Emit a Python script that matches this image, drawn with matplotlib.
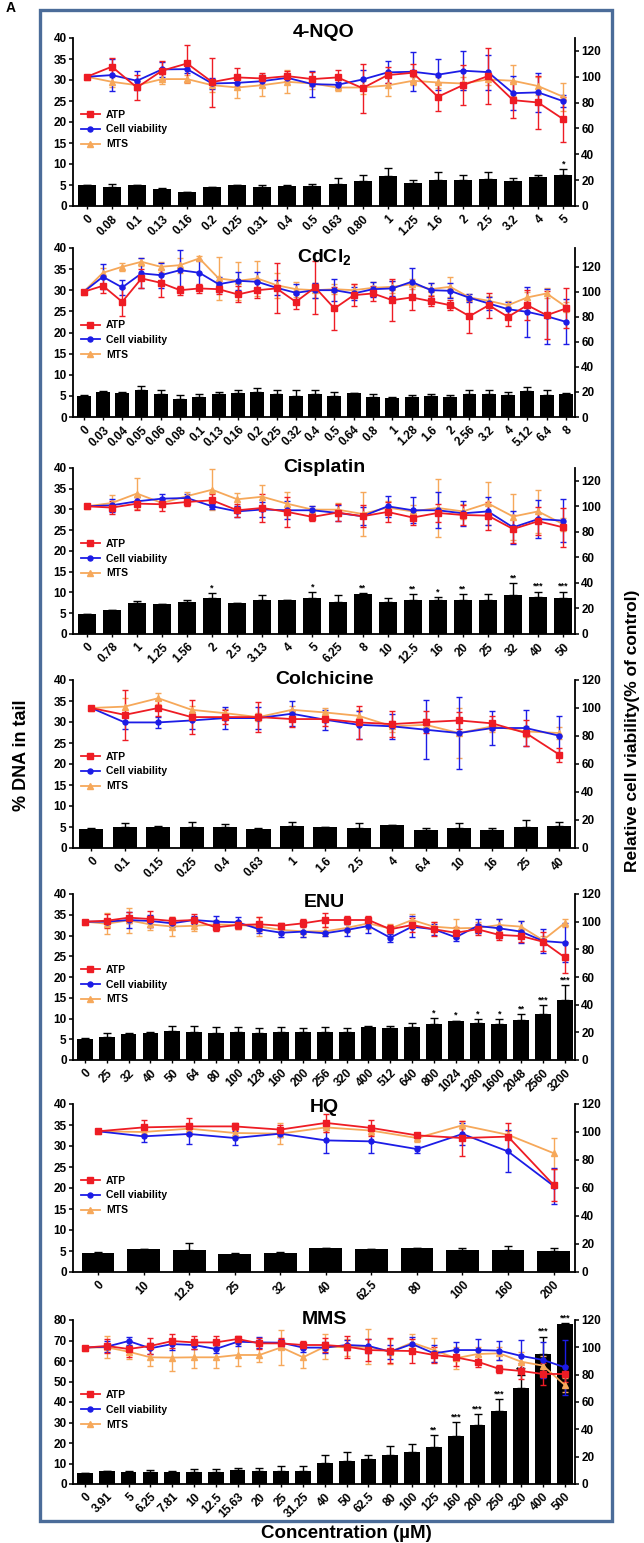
import numpy as np
import matplotlib
matplotlib.use("Agg")
import matplotlib.pyplot as plt
from matplotlib.lines import Line2D
from matplotlib.patches import Rectangle

plt.rcParams["font.family"] = ["Liberation Sans", "DejaVu Sans"]
plt.rcParams["font.weight"] = "bold"
plt.rcParams["axes.labelweight"] = "bold"
plt.rcParams["mathtext.fontset"] = "custom"
plt.rcParams["mathtext.rm"] = "Liberation Sans:bold"
plt.rcParams["mathtext.bf"] = "Liberation Sans:bold"
plt.rcParams["mathtext.default"] = "bf"

RED = "#ee1c24"
BLUE = "#1c1ce6"
ORANGE = "#f6a85a"

##### 4-NQO #####
nqo_conc = ["0", "0.08", "0.1", "0.13", "0.16", "0.2", "0.25", "0.31", "0.4", "0.5",
            "0.63", "0.80", "1", "1.25", "1.6", "2", "2.5", "3.2", "4", "5"]
nqo_dna = [4.9, 4.5, 4.9, 4.0, 3.3, 4.5, 4.9, 4.5, 4.8, 4.8, 5.3, 6.0, 7.1, 5.5, 6.3, 6.3, 6.4, 6.0, 6.9, 7.5]
nqo_dna_err = [0.1, 0.8, 0.2, 0.2, 0.1, 0.1, 0.1, 0.4, 0.2, 0.5, 1.4, 1.5, 2.0, 0.8, 1.7, 1.0, 1.6, 0.7, 0.4, 1.2]
nqo_stars = {19: "*"}
nqo_atp = [100, 107.8, 91.7, 104.7, 110.3, 95.9, 99.5, 98.7, 100.5, 98.2, 99.5, 91.2, 101.3, 103.1, 84.5, 93.5, 100.5, 81.9, 80.1, 67.2]
nqo_atp_err = [0, 6.5, 10, 7.5, 14, 19, 7, 4, 4, 5.5, 6, 19, 6.5, 7, 11, 15.5, 21.5, 14, 20.5, 17.5]
nqo_cell = [100, 101.3, 96.9, 105.7, 105.9, 94.8, 95.3, 96.6, 99.2, 94.3, 93.8, 97.9, 103.4, 103.9, 101.6, 104.7, 103.6, 87.3, 87.9, 81.1]
nqo_cell_err = [0, 12.5, 7.5, 6, 3, 4.6, 3.5, 4.5, 3, 10, 2.5, 7, 8.5, 15, 12, 15, 13.5, 13, 15, 4.8]
nqo_mts = [100, 96.1, 93.5, 98.2, 98.2, 93.5, 91.7, 93.5, 96.1, 94.8, 91.7, 91.7, 93.3, 96.9, 95.6, 94.8, 97.9, 96.9, 92.8, 84.5]
nqo_mts_err = [0, 4, 3, 4, 3, 5, 8, 8, 9, 4, 3, 5, 8, 3, 4, 5, 4, 12, 7, 11]

##### CdCl2 #####
cd_conc = ["0", "0.03", "0.04", "0.05", "0.06", "0.08", "0.1", "0.13", "0.16", "0.2", "0.25", "0.32", "0.4",
           "0.5", "0.64", "0.8", "1", "1.28", "1.6", "2", "2.56", "3.2", "4", "5.12", "6.4", "8"]
cd_dna = [5.0, 5.8, 5.7, 6.3, 5.5, 4.3, 4.7, 5.5, 5.7, 5.9, 5.4, 5.0, 5.5, 5.0, 5.6, 4.7, 4.6, 4.7, 4.9, 4.7,
          5.5, 5.5, 5.1, 6.1, 5.1, 5.4]
cd_dna_err = [0.1, 0.3, 0.2, 1.0, 1.0, 0.8, 0.8, 0.3, 0.6, 1.0, 1.1, 1.3, 1.0, 0.9, 0.1, 0.8, 0.2, 0.4, 0.6, 0.4,
              0.8, 1.0, 0.8, 1.0, 1.2, 0.2]
cd_stars = {}
cd_atp = [100, 104.8, 92.0, 110.7, 107.2, 101.3, 102.7, 102.1, 97.9, 101.3, 102.7, 92.0, 103.5, 86.7, 97.3, 98.7,
          93.3, 95.5, 92.5, 89.3, 80.5, 89.3, 80.0, 89.3, 81.3, 86.7]
cd_atp_err = [0, 6, 11, 7.5, 11, 3.6, 3.7, 3.5, 6.4, 6.3, 20, 6, 21, 17, 9, 6, 17, 10, 4, 4, 13, 10, 7, 12, 19, 16]
cd_cell = [100, 112, 103.5, 114.7, 113.3, 117.3, 115.2, 106.1, 108.8, 108, 103.2, 99.2, 101.3, 101.3, 98.7, 102.1,
           102.7, 108, 101.3, 100.8, 95.2, 90.7, 86.1, 84, 80.5, 76]
cd_cell_err = [0, 10, 6, 12, 10, 16, 10, 6, 7, 8, 6, 7, 6, 9, 5, 6, 6, 11, 6, 6, 3, 5, 6, 20, 22, 18]
cd_mts = [100, 115.2, 120, 124, 120, 121.3, 126.7, 110.7, 108.8, 110.7, 105.3, 102.1, 101.3, 102.1, 101.3, 103.2,
          104, 106.1, 102.1, 104, 95.5, 92.8, 89.3, 95.5, 98.7, 88]
cd_mts_err = [0, 4, 3, 3, 4, 6, 2, 17, 15, 14, 10, 6, 6, 4, 5, 5, 5, 4, 5, 8, 3, 4, 3, 4, 4, 4]

##### Cisplatin #####
cis_conc = ["0", "0.78", "1", "1.25", "1.56", "2", "2.5", "3.13", "4", "5", "6.25", "8", "10", "12.5", "16",
            "20", "25", "32", "40", "50"]
cis_dna = [4.8, 5.7, 7.4, 7.2, 7.8, 8.6, 7.4, 8.2, 8.1, 8.6, 7.6, 9.6, 7.7, 8.3, 8.2, 8.2, 8.1, 9.4, 8.9, 8.6]
cis_dna_err = [0.1, 0.1, 0.6, 0.1, 0.5, 1.2, 0.1, 1.3, 0.2, 1.5, 1.8, 0.2, 0.9, 1.4, 0.7, 1.4, 1.5, 2.8, 1.3, 1.6]
cis_stars = {5: "*", 9: "*", 11: "**", 13: "**", 14: "*", 15: "**", 17: "**", 18: "***", 19: "***"}
cis_atp = [100, 99, 102.1, 101.6, 103.4, 104.7, 96.9, 98.7, 95.6, 91.7, 95.1, 92.2, 95.6, 91.2, 94.8,
           93.2, 92.7, 82.2, 88.3, 83.5]
cis_atp_err = [0, 5, 5, 5, 3, 5, 5, 11, 12, 3, 6.5, 8.5, 8, 6, 7, 7.5, 11, 11, 11, 15]
cis_cell = [100, 100.8, 103.9, 106, 106.5, 100, 96, 97.5, 96.9, 96.9, 94.8, 92.2, 100, 96.9, 96.9,
            94.5, 96, 83.5, 90, 88.8]
cis_cell_err = [0, 5, 3, 4, 3, 2, 4, 6, 7, 3, 6, 7, 8, 10, 14, 10, 11, 13, 15, 17]
cis_mts = [100, 102.6, 110, 102.6, 108, 113, 105.5, 107.5, 102, 97.4, 97.4, 94, 99, 96, 98.7,
           96, 102.3, 92, 96, 86]
cis_mts_err = [0, 6, 12, 3, 3, 16, 5, 9, 9, 3, 5, 17, 5, 5, 23, 6, 17, 18, 17, 5]

##### Colchicine #####
col_conc = ["0", "0.1", "0.15", "0.25", "0.4", "0.63", "1", "1.6", "2.5", "4", "6.4", "10", "16", "25", "40"]
col_dna = [4.6, 5.1, 5.0, 5.0, 5.0, 4.5, 5.3, 4.9, 4.7, 5.4, 4.3, 4.7, 4.3, 5.1, 5.3]
col_dna_err = [0.1, 0.9, 0.3, 1.2, 0.6, 0.3, 0.9, 0.1, 1.3, 0.1, 0.5, 1.3, 0.4, 1.5, 0.8]
col_stars = {}
col_atp = [100, 95.1, 100, 93.5, 93.5, 93.5, 92.1, 92.1, 89.7, 88.5, 89.9, 91.1, 89, 82.1, 66.7]
col_atp_err = [0, 18, 5.5, 12, 5, 10.5, 6, 5, 12, 9.5, 8, 6, 5, 9.5, 5]
col_cell = [100, 89.7, 89.7, 91.1, 92.8, 92.8, 95.9, 91.6, 88, 86.9, 84.5, 82.1, 85.7, 85.7, 80.2]
col_cell_err = [0, 5, 4, 6, 8, 8, 9, 7, 10, 9, 21, 26, 12, 13, 14]
col_mts = [100, 101, 107, 98.7, 96.3, 93.5, 98.7, 96.8, 94.4, 86.9, 88, 82.1, 86.9, 83.3, 82.1]
col_mts_err = [0, 6, 4, 3, 3, 3, 3, 3, 4, 4, 4, 18, 4, 4, 4]

##### ENU #####
enu_conc = ["0", "25", "32", "40", "50", "64", "80", "100", "128", "160", "200", "256", "320", "400", "512",
            "640", "800", "1024", "1280", "1600", "2048", "2560", "3200"]
enu_dna = [5.1, 5.5, 6.3, 6.4, 7.1, 6.7, 6.5, 6.8, 6.4, 6.8, 6.8, 6.8, 6.8, 8.0, 7.8, 7.9, 8.7, 9.3, 9.0, 8.6,
           9.7, 11.0, 14.5]
enu_dna_err = [0.1, 0.9, 0.2, 0.4, 1.2, 1.5, 1.5, 1.2, 1.4, 1.1, 1.0, 1.2, 1.0, 0.2, 0.5, 1.1, 1.4, 0.2, 0.8,
               1.3, 1.4, 2.3, 3.5]
enu_stars = {16: "*", 17: "*", 18: "*", 19: "*", 20: "**", 21: "***", 22: "***"}
enu_atp = [100, 100.7, 102.9, 101.9, 100.5, 101.2, 95.9, 97.6, 98.1, 97.1, 98.8, 101.2, 101.2, 101.2, 94.5,
           97.6, 94.5, 92, 94.5, 90.4, 89.6, 85.5, 74.2]
enu_atp_err = [0, 5, 4, 6, 3, 4, 3, 3, 5, 2, 3, 5, 3, 3, 3, 5, 5, 4, 4, 4, 4, 7, 11]
enu_cell = [100, 100, 101.2, 100.5, 98.8, 101.2, 100, 99.5, 94.5, 92, 92.8, 91.6, 94, 96.9, 88.4, 96.4, 94.5,
            88.7, 96.9, 95.2, 92.8, 86, 84.8]
enu_cell_err = [0, 2, 5.5, 4, 3, 3, 4, 4, 3, 3, 4, 2, 4, 5, 3, 7.5, 4, 3, 5, 7, 8, 9, 14]
enu_mts = [100, 98.5, 101, 98, 96.5, 97, 98, 97.6, 96.5, 94, 93, 93, 95.5, 98.8, 95, 101.2, 96.4, 95.2, 95.5,
           97.6, 96.4, 86.6, 99]
enu_mts_err = [0, 7.5, 9, 4, 7, 4, 3, 3, 7, 3, 4, 3, 3, 4, 3, 4, 3, 7, 4, 4, 4, 3, 3]

##### HQ #####
hq_conc = ["0", "10", "12.8", "25", "32", "40", "62.5", "80", "100", "160", "200"]
hq_dna = [4.6, 5.4, 5.2, 4.4, 4.6, 5.7, 5.4, 5.7, 5.2, 5.3, 5.1]
hq_dna_err = [0.05, 0.1, 1.6, 0.1, 0.1, 0.1, 0.1, 0.1, 0.5, 0.8, 0.6]
hq_stars = {}
hq_atp = [100.5, 103.3, 104, 104, 101.7, 106.5, 102.9, 97.6, 95.7, 96.7, 62.2]
hq_atp_err = [0, 5.5, 6, 2.5, 3, 6.5, 6, 2, 12.5, 10, 11.5]
hq_cell = [100.5, 96.9, 98.6, 95.7, 98.8, 94, 93.3, 87.8, 98.6, 86.1, 61.5]
hq_cell_err = [0, 4, 7, 5, 2.5, 9, 8, 2.5, 8, 15, 13]
hq_mts = [100.5, 100, 102.4, 99.3, 98.8, 103.3, 101, 95.7, 104.8, 98, 84.9]
hq_mts_err = [0, 3, 3, 3, 7.5, 3, 3, 3, 3, 3, 11]

##### MMS #####
mms_conc = ["0", "3.91", "5", "6.25", "7.81", "10", "12.5", "15.63", "20", "25", "31.25", "40", "50", "62.5",
            "80", "100", "125", "160", "200", "250", "320", "400", "500"]
mms_dna = [5.4, 6.2, 5.7, 5.7, 5.7, 5.8, 5.7, 6.7, 6.2, 6.2, 6.5, 10.2, 11.4, 12.2, 14.1, 15.7, 18.0, 23.2,
           28.9, 35.4, 46.8, 63.3, 77.9]
mms_dna_err = [0.2, 0.3, 0.8, 1.0, 0.8, 1.7, 1.8, 1.1, 1.6, 2.4, 2.4, 4.1, 4.0, 2.1, 4.2, 3.8, 5.7, 7.0, 5.2,
               6.0, 6.4, 8.6, 0.5]
mms_stars = {16: "**", 17: "***", 18: "***", 19: "***", 20: "***", 21: "***", 22: "***"}
mms_atp = [99.8, 101, 98.8, 101, 104.6, 103.6, 103.6, 106.1, 102.9, 102.9, 101.7, 101.7, 100.5, 98, 97.6,
           97.3, 94.4, 92.7, 89.5, 84.2, 82.7, 80.5, 80.5]
mms_atp_err = [0, 5, 6, 6, 5, 5, 5, 2, 4, 4, 3, 5, 8, 8, 9, 9, 6, 6, 4, 3, 6, 8, 6]
mms_cell = [99.8, 100.5, 104.6, 99.3, 102.4, 101.7, 98.8, 104.1, 103.6, 103.4, 99.8, 99.8, 101.7, 101, 96.8,
            102.4, 95.6, 98, 98, 97.6, 93.7, 90.8, 85.4]
mms_cell_err = [0, 4, 3, 4, 4, 3, 3, 3, 4, 3, 3, 4, 4, 5, 5, 5, 6, 6, 8, 7, 12, 13, 20]
mms_mts = [99.8, 100, 96.8, 92.7, 92.5, 92.7, 92.7, 94.4, 94.4, 100, 92.7, 100.5, 100, 100.5, 96.8, 103.4,
           98, 92, 95.1, 95.6, 89.5, 86.6, 72.5]
mms_mts_err = [0, 8, 5, 6, 10, 8, 8, 8, 5, 13, 8, 9, 6, 13, 9, 6, 9, 8, 5, 5, 7, 7, 5]


##### Layout (pixels of the 644x1543 picture) #####
W, H = 644, 1543
AX_L, AX_R = 73, 575

fig = plt.figure(figsize=(W / 100, H / 100), dpi=100)


def draw_panel(top, bottom, title, title_y, conc, dna, dna_err, stars, atp, atp_err, cell, cell_err,
               mts, mts_err, left_max, left_step, right_max):
    ax = fig.add_axes([AX_L / W, 1 - bottom / H, (AX_R - AX_L) / W, (bottom - top) / H])
    n = len(conc)
    x = np.arange(n)

    # barras de % DNA na cauda (eixo esquerdo)
    ax.bar(x, dna, width=0.72, color="black", zorder=2)
    ax.errorbar(x, dna, yerr=[np.zeros(n), dna_err], fmt="none", ecolor="black",
                elinewidth=1.0, capsize=2.6, capthick=1.0, zorder=2)
    for i, s in stars.items():
        ax.text(i, dna[i] + dna_err[i] + 0.004 * left_max, s, ha="center", va="bottom",
                fontsize=6.5, zorder=3)

    ax.set_xlim(-0.55, n - 0.53)
    ax.set_ylim(0, left_max)
    ax.set_yticks(np.arange(0, left_max + 1, left_step))
    ax.set_xticks(x)
    ax.set_xticklabels(conc, rotation=45, ha="right", rotation_mode="anchor", fontsize=8.5)
    ax.tick_params(axis="y", direction="out", length=3, width=1.1, labelsize=8.5, pad=1.5)
    ax.tick_params(axis="x", direction="out", length=2, width=1.0, pad=3)
    for side in ["top", "right"]:
        ax.spines[side].set_visible(False)
    for side in ["left", "bottom"]:
        ax.spines[side].set_linewidth(1.3)

    # linhas de viabilidade (eixo direito)
    ax2 = ax.twinx()
    series = [(mts, mts_err, ORANGE, "^", 3.8), (cell, cell_err, BLUE, "o", 3.6), (atp, atp_err, RED, "s", 4.4)]
    for vals, errs, c, m, ms in series:
        ax2.errorbar(x, vals, yerr=errs, color=c, marker=m, ms=ms, lw=1.3, elinewidth=1.0,
                     capsize=2.2, capthick=1.0)
    ax2.set_ylim(0, right_max)
    ax2.set_yticks(np.arange(0, 121, 20))
    ax2.tick_params(axis="y", direction="out", length=3, width=1.1, labelsize=8.5, pad=1.5)
    for side in ["top", "left", "bottom"]:
        ax2.spines[side].set_visible(False)
    ax2.spines["right"].set_linewidth(1.3)

    handles = [Line2D([], [], color=RED, marker="s", ms=4.4, lw=1.3),
               Line2D([], [], color=BLUE, marker="o", ms=3.6, lw=1.3),
               Line2D([], [], color=ORANGE, marker="^", ms=3.8, lw=1.3)]
    ax2.legend(handles, ["ATP", "Cell viability", "MTS"], loc="upper left", bbox_to_anchor=(0.012, 0.585),
               frameon=False, fontsize=7.5, handlelength=1.8, handletextpad=0.6, labelspacing=0.45,
               borderaxespad=0, borderpad=0.2)

    ax2.text(0.5, title_y, title, transform=ax2.transAxes, ha="center", va="center", fontsize=14)
    return ax


draw_panel(38, 206, "4-NQO", 1.03, nqo_conc, nqo_dna, nqo_dna_err, nqo_stars, nqo_atp, nqo_atp_err,
           nqo_cell, nqo_cell_err, nqo_mts, nqo_mts_err, 40, 5, 130)
draw_panel(248, 417, "CdCl$_2$", 0.945, cd_conc, cd_dna, cd_dna_err, cd_stars, cd_atp, cd_atp_err,
           cd_cell, cd_cell_err, cd_mts, cd_mts_err, 40, 5, 135)
draw_panel(468, 634, "Cisplatin", 1.0, cis_conc, cis_dna, cis_dna_err, cis_stars, cis_atp, cis_atp_err,
           cis_cell, cis_cell_err, cis_mts, cis_mts_err, 40, 5, 130)
draw_panel(680, 848, "Colchicine", 1.0, col_conc, col_dna, col_dna_err, col_stars, col_atp, col_atp_err,
           col_cell, col_cell_err, col_mts, col_mts_err, 40, 5, 120)
draw_panel(894, 1060, "ENU", 0.95, enu_conc, enu_dna, enu_dna_err, enu_stars, enu_atp, enu_atp_err,
           enu_cell, enu_cell_err, enu_mts, enu_mts_err, 40, 5, 120)
draw_panel(1104, 1272, "HQ", 0.98, hq_conc, hq_dna, hq_dna_err, hq_stars, hq_atp, hq_atp_err,
           hq_cell, hq_cell_err, hq_mts, hq_mts_err, 40, 5, 120)
draw_panel(1320, 1484, "MMS", 1.0, mms_conc, mms_dna, mms_dna_err, mms_stars, mms_atp, mms_atp_err,
           mms_cell, mms_cell_err, mms_mts, mms_mts_err, 80, 10, 120)

# moldura azul em volta dos paineis
fig.add_artist(Rectangle((40 / W, 1 - 1521 / H), (612 - 40) / W, (1521 - 10) / H, transform=fig.transFigure,
                         fill=False, edgecolor="#4b6c99", linewidth=2.4))

fig.text(22 / W, 1 - 755 / H, "% DNA in tail", rotation=90, ha="center", va="center", fontsize=13)
fig.text(633 / W, 1 - 731 / H, "Relative cell viability(% of control)", rotation=90, ha="center",
         va="center", fontsize=12.5)
fig.text(346 / W, 1 - 1533 / H, "Concentration (µM)", ha="center", va="center", fontsize=13.5)
fig.text(6 / W, 1 - 1 / H, "A", ha="left", va="top", fontsize=10)

plt.savefig("out.png", dpi=100)
